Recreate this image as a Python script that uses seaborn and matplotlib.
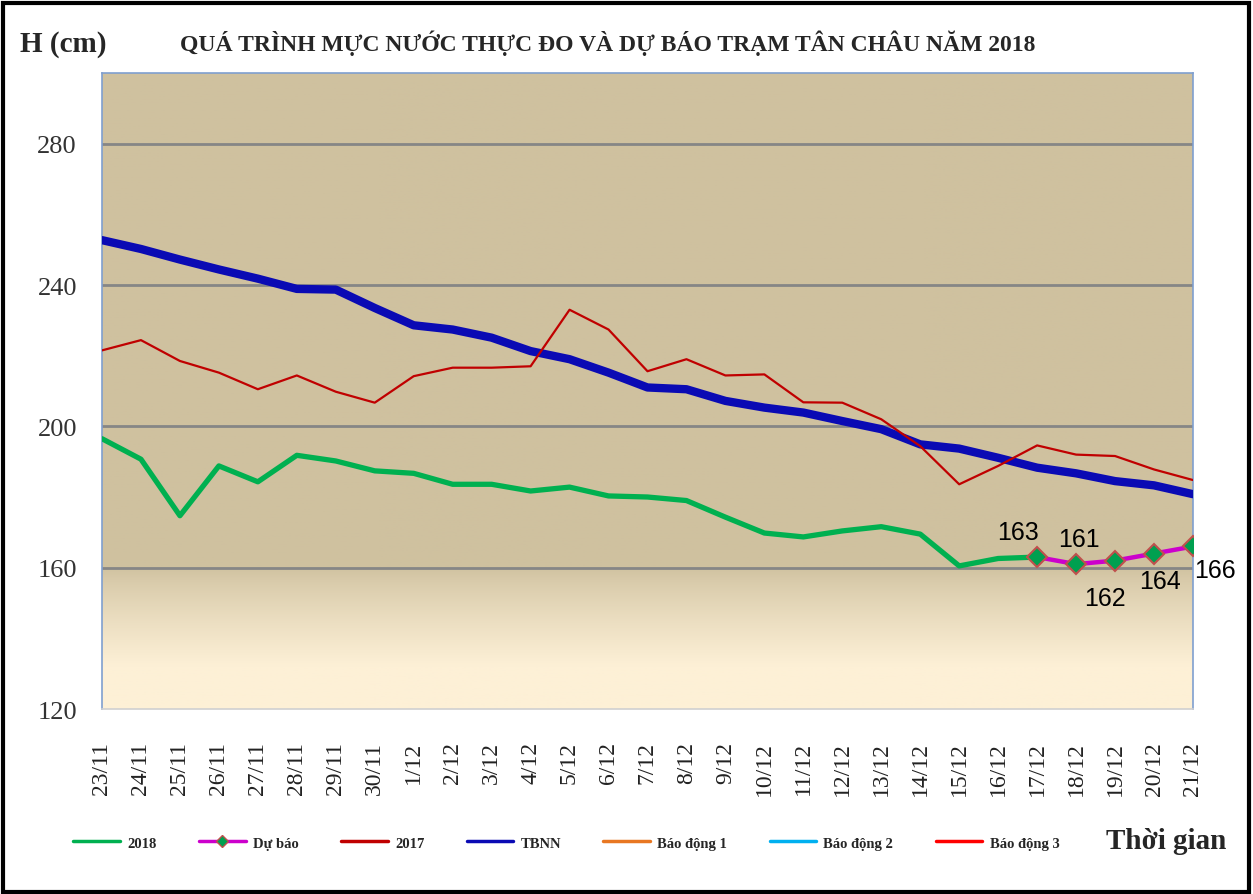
import numpy as np
import pandas as pd
import matplotlib
matplotlib.use("Agg")
import matplotlib.pyplot as plt
import seaborn as sns
from matplotlib.lines import Line2D
from matplotlib.patches import Rectangle

# ngày quan trắc
days = ["23/11", "24/11", "25/11", "26/11", "27/11", "28/11", "29/11", "30/11",
        "1/12", "2/12", "3/12", "4/12", "5/12", "6/12", "7/12", "8/12", "9/12",
        "10/12", "11/12", "12/12", "13/12", "14/12", "15/12", "16/12", "17/12",
        "18/12", "19/12", "20/12", "21/12"]

# mực nước (cm)
h2018 = [196.5, 190.7, 174.7, 188.8, 184.3, 191.8, 190.2, 187.4, 186.7, 183.6,
         183.6, 181.7, 182.8, 180.3, 180, 179, 174.3, 169.8, 168.7, 170.4,
         171.6, 169.5, 160.5, 162.6, 163]
forecast = [163, 161, 162, 164, 166]
h2017 = [221.5, 224.4, 218.5, 215.2, 210.5, 214.4, 209.8, 206.7, 214.2, 216.6,
         216.6, 217, 233, 227.4, 215.6, 219, 214.4, 214.7, 206.8, 206.7, 202,
         194.4, 183.6, 188.8, 194.6, 192, 191.6, 187.8, 184.8]
tbnn = [252.7, 250.2, 247.2, 244.4, 241.8, 238.9, 238.7, 233.5, 228.6, 227.4,
        225.1, 221.3, 219, 215.2, 211, 210.5, 207.2, 205.3, 203.9, 201.5, 199.2,
        194.9, 193.7, 191.1, 188.3, 186.7, 184.5, 183.3, 180.8]
# mức báo động trạm Tân Châu (ngoài khung nhìn)
alarm1, alarm2, alarm3 = 350, 400, 450

pos = np.arange(len(days))
fc_pos = pos[len(h2018) - 1:]

sns.set_style("white")
plt.rcParams["font.family"] = ["Liberation Serif", "DejaVu Serif"]

fig = plt.figure(figsize=(12.53, 8.95), dpi=100)
ax = fig.add_axes([0.0814, 0.2067, 0.8707, 0.7106])

ymin, ymax = 120, 300
ax.set_xlim(0, len(days) - 1)
ax.set_ylim(ymin, ymax)

# nền: màu be phía trên 160, chuyển dần sang màu kem bên dưới
yy = np.linspace(ymax, ymin, 400)
tan = np.array([207, 193, 159]) / 255
cream = np.array([253, 240, 214]) / 255
t = np.clip((160 - yy) / 28, 0, 1) ** 0.8
col = tan[None, :] * (1 - t[:, None]) + cream[None, :] * t[:, None]
img = np.repeat(col[:, None, :], 2, axis=1)
ax.imshow(img, extent=[0, len(days) - 1, ymin, ymax], aspect="auto", zorder=0)

for g in [160, 200, 240, 280]:
    ax.axhline(g, color="#868686", lw=2, zorder=1)

df = pd.DataFrame({"x": pos, "h2017": h2017, "tbnn": tbnn})
df18 = pd.DataFrame({"x": pos[:len(h2018)], "h": h2018})
dffc = pd.DataFrame({"x": fc_pos, "h": forecast})

sns.lineplot(data=df, x="x", y="tbnn", color="#0a0ab4", lw=6, ax=ax, zorder=3)
sns.lineplot(data=df, x="x", y="h2017", color="#c00000", lw=1.6, ax=ax, zorder=4)
sns.lineplot(data=df18, x="x", y="h", color="#00b050", lw=3.8, ax=ax, zorder=5)
sns.lineplot(data=dffc, x="x", y="h", color="#cc00cc", lw=3.2, ax=ax, zorder=6,
             marker="D", markersize=10, markerfacecolor="#00a050",
             markeredgecolor="#c0504d", markeredgewidth=1.5)
for a, c in [(alarm1, "#e87722"), (alarm2, "#00b0f0"), (alarm3, "#ff0000")]:
    ax.plot(pos, [a] * len(pos), color=c, lw=2)

# nhãn giá trị dự báo
offsets = [(-14, 18), (2, 18), (-7, -27), (4, -20), (16, -17)]
for x, v, (dx, dy) in zip(fc_pos, forecast, offsets):
    ax.annotate(str(v), (x, v), xytext=(dx, dy), textcoords="offset points",
                ha="center", va="center", fontsize=18, color="black",
                family=["Liberation Sans", "DejaVu Sans"], zorder=7,
                annotation_clip=False)

ax.set_xticks(pos)
ax.set_xticklabels(days, rotation=90, va="top", ha="center")
ax.set_yticks([120, 160, 200, 240, 280])
ax.tick_params(axis="x", length=0, pad=23, labelsize=17, labelcolor="#222222")
ax.tick_params(axis="y", length=0, pad=18, labelsize=19, labelcolor="#333333")
ax.set_xlabel("")
ax.set_ylabel("")
for s in ["left", "right", "top"]:
    ax.spines[s].set_color("#7f9fcf")
    ax.spines[s].set_linewidth(1.2)
ax.spines["bottom"].set_color("#d0d0d0")
ax.spines["bottom"].set_linewidth(1.2)

fig.text(0.016, 0.950, "H (cm)", fontsize=21, fontweight="bold", va="center")
fig.text(0.485, 0.952, "QUÁ TRÌNH MỰC NƯỚC THỰC ĐO VÀ DỰ BÁO TRẠM TÂN CHÂU NĂM 2018",
         fontsize=17, fontweight="bold", ha="center", va="center")
fig.text(0.883, 0.060, "Thời gian", fontsize=21, fontweight="bold", va="center")

handles = [
    Line2D([], [], color="#00b050", lw=2.5),
    Line2D([], [], color="#cc00cc", lw=2.5, marker="D", markersize=6,
           markerfacecolor="#00a050", markeredgecolor="#c0504d"),
    Line2D([], [], color="#c00000", lw=2.5),
    Line2D([], [], color="#0a0ab4", lw=2.5),
    Line2D([], [], color="#e87722", lw=2.5),
    Line2D([], [], color="#00b0f0", lw=2.5),
    Line2D([], [], color="#ff0000", lw=2.5),
]
labels = ["2018", "Dự báo", "2017", "TBNN", "Báo động 1", "Báo động 2", "Báo động 3"]
fig.legend(handles, labels, loc="center", bbox_to_anchor=(0.452, 0.057), ncol=7,
           frameon=False, prop={"size": 10.5, "weight": "bold"},
           handlelength=3.2, columnspacing=2.9, handletextpad=0.5)

fig.patches.append(Rectangle((0.002, 0.002), 0.995, 0.994, transform=fig.transFigure,
                             fill=False, edgecolor="black", lw=3))

fig.savefig("out.png", dpi=100)
